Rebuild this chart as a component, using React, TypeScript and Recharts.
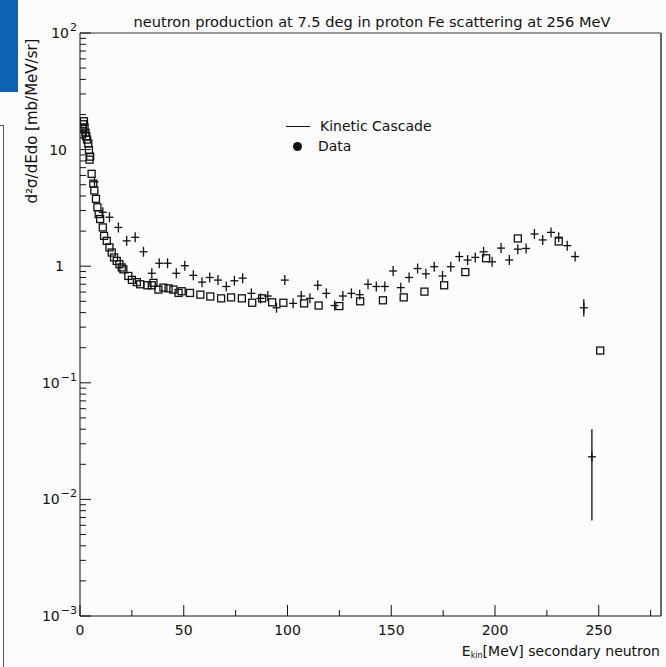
import { ComposedChart, Scatter, XAxis, YAxis, ErrorBar, ReferenceLine } from "recharts";

// measured data (squares)
const dataE = [0.9, 1.2, 1.5, 1.9, 2.2, 2.6, 3.0, 3.4, 4.0, 4.3, 4.6, 4.9, 5.6, 6.4, 6.9, 7.7, 8.4, 9.0, 9.7, 11.0, 11.6, 12.9, 14.2, 15.3, 16.4, 17.7, 19.0, 20.1, 20.9, 23.3, 25.0, 27.4, 29.0, 32.5, 34.6, 35.4, 37.8, 40.2, 42.7, 45.0, 47.5, 49.0, 53.0, 58.0, 62.8, 68.0, 72.8, 78.0, 83.0, 87.8, 92.6, 98.0, 108.0, 115.0, 125.0, 135.0, 146.0, 156.0, 166.0, 175.5, 185.7, 195.7, 211.0, 230.7, 250.7];
const dataV = [13.5, 15, 16.5, 17.5, 15.5, 14, 13, 12.2, 11.3, 9.9, 8.2, 8.7, 6.2, 5.1, 4.46, 3.78, 3.2, 2.8, 2.54, 2.15, 1.82, 1.65, 1.45, 1.31, 1.19, 1.11, 1.04, 0.975, 0.94, 0.825, 0.763, 0.73, 0.7, 0.686, 0.686, 0.72, 0.63, 0.655, 0.645, 0.63, 0.59, 0.61, 0.59, 0.57, 0.55, 0.53, 0.54, 0.53, 0.486, 0.53, 0.49, 0.486, 0.48, 0.46, 0.455, 0.5, 0.51, 0.54, 0.605, 0.686, 0.89, 1.17, 1.73, 1.63, 0.189];

// kinetic cascade (crosses)
const casE = [3.0, 7.0, 11.0, 14.2, 18.5, 22.5, 26.6, 30.6, 34.6, 38.2, 42.2, 46.4, 50.5, 54.6, 58.8, 62.5, 66.5, 70.5, 74.4, 78.4, 82.6, 87.0, 90.5, 94.7, 98.7, 102.7, 106.6, 110.8, 114.6, 118.7, 122.7, 126.7, 130.8, 134.8, 138.8, 142.8, 146.9, 150.9, 154.6, 158.6, 162.7, 166.7, 170.7, 174.7, 178.7, 182.8, 186.8, 190.5, 194.5, 198.6, 202.9, 206.9, 211.0, 215.0, 219.0, 223.0, 227.0, 230.7, 234.8, 238.6];
const casV = [14, 5.3, 2.9, 2.63, 2.15, 1.65, 1.77, 1.33, 0.87, 1.06, 1.06, 0.87, 1.01, 0.835, 0.73, 0.8, 0.76, 0.67, 0.75, 0.79, 0.585, 0.53, 0.555, 0.44, 0.76, 0.48, 0.555, 0.53, 0.686, 0.585, 0.46, 0.555, 0.585, 0.57, 0.7, 0.67, 0.67, 0.91, 0.655, 0.8, 0.955, 0.86, 0.99, 0.825, 0.99, 1.21, 1.13, 1.19, 1.33, 1.09, 1.43, 1.13, 1.4, 1.42, 1.89, 1.68, 1.95, 1.77, 1.5, 1.21];

// last cascade points, with vertical errors
const tailE = [242.8, 246.7];
const tailV = [0.44, 0.0232];
const tailLo = [0.07, 0.0166];
const tailHi = [0.08, 0.0168];

const xMajor = [0, 50, 100, 150, 200, 250];
const xMinor = [25, 75, 125, 175, 225, 275];
const yMajor = [0.001, 0.01, 0.1, 1, 10, 100];
const yMinor = [0.001, 0.01, 0.1, 1, 10].flatMap((d) => [2, 3, 4, 5, 6, 7, 8, 9].map((k) => d * k));

const squares = dataE.map((x, i) => ({ x, y: dataV[i] }));
const crosses = casE.map((x, i) => ({ x, y: casV[i] }));
const tail = tailE.map((x, i) => ({ x, y: tailV[i], err: [tailLo[i], tailHi[i]] }));

const FONT = "'DejaVu Sans', sans-serif";
const INK = "#111";
const X_DOM: [number, number] = [0, 280];
const Y_DOM: [number, number] = [0.001, 100];
// inward tick lengths, in axis units (about 11px / 6px)
const YT_MAJ = 5.3, YT_MIN = 2.9;
const XT_MAJ = 0.001243, XT_MIN = 0.001126;

const Square = (p: any) => <rect x={p.cx - 3.5} y={p.cy - 3.5} width={7} height={7} fill="none" stroke={INK} strokeWidth={1.3} />;
const Cross = (p: any) => (
  <g stroke={INK} strokeWidth={1.3}>
    <line x1={p.cx - 4} x2={p.cx + 4} y1={p.cy} y2={p.cy} />
    <line x1={p.cx} x2={p.cx} y1={p.cy - 5} y2={p.cy + 5} />
  </g>
);

function YTick({ x, y, payload }: any) {
  const e = Math.round(Math.log10(payload.value));
  if (e === 0) return <text x={x - 13} y={y} dy="0.36em" textAnchor="end" fontFamily={FONT} fontSize={14} fill={INK}>1</text>;
  if (e === 1) return <text x={x - 10} y={y} dy="0.36em" textAnchor="end" fontFamily={FONT} fontSize={14} fill={INK}>10</text>;
  return (
    <text x={x} y={y} dy="0.36em" textAnchor="end" fontFamily={FONT} fontSize={14} fill={INK}>
      10<tspan dy={-7} dx={1} fontSize={11}>{e < 0 ? "\u2212" + -e : String(e)}</tspan>
    </text>
  );
}

function XTick({ x, y, payload }: any) {
  return <text x={x} y={y} dy="0.71em" textAnchor="middle" fontFamily={FONT} fontSize={14} fill={INK}>{payload.value}</text>;
}

function XLabel({ viewBox }: any) {
  return (
    <text x={viewBox.x + viewBox.width - 1} y={viewBox.y + 40} textAnchor="end" fontFamily={FONT} fontSize={14} fill={INK}>
      E<tspan fontSize={8} dy={2}>kin</tspan><tspan dy={-2}>[MeV] secondary neutron</tspan>
    </text>
  );
}

function YLabel() {
  const cx = 32, cy = 121;
  return (
    <text x={cx} y={cy} transform={`rotate(-90 ${cx} ${cy})`} textAnchor="middle" dominantBaseline="central" fontFamily={FONT} fontSize={15} fill={INK}>
      d²σ/dEdo [mb/MeV/sr]
    </text>
  );
}

export default function App() {
  const seg = (a: any, b: any, k: string) => (
    <ReferenceLine key={k} segment={[a, b]} stroke={INK} strokeWidth={1} ifOverflow="visible" />
  );
  return (
    <div style={{ position: "absolute", left: 0, top: 0, width: 666, height: 667, background: "#fcfcfc", overflow: "hidden" }}>
      <div style={{ position: "absolute", left: 0, top: 0, width: 18, height: 92, background: "#0b63b3" }} />
      <div style={{ position: "absolute", left: -10, top: 125, width: 12, height: 560, border: "1px solid #555" }} />
      <div style={{ position: "absolute", left: 0, width: 666, top: 13, textAlign: "center", paddingLeft: 78, boxSizing: "border-box", fontFamily: FONT, fontSize: 14.6, color: INK }}>
        neutron production at 7.5 deg in proton Fe scattering at 256 MeV
      </div>
      <div style={{ position: "absolute", left: 286, top: 116, fontFamily: FONT, fontSize: 14, color: INK, lineHeight: "20px" }}>
        <div style={{ display: "flex", alignItems: "center" }}>
          <span style={{ display: "inline-block", width: 24, borderTop: "1.5px solid #111", marginRight: 10 }} />Kinetic Cascade
        </div>
        <div style={{ display: "flex", alignItems: "center" }}>
          <span style={{ display: "inline-block", width: 9, height: 9, borderRadius: 5, background: "#111", marginLeft: 7, marginRight: 16 }} />Data
        </div>
      </div>
      <ComposedChart width={666} height={667} margin={{ top: 33, right: 5, bottom: 0, left: 0 }} style={{ position: "absolute", left: 0, top: 0 }}>
        <XAxis dataKey="x" type="number" domain={X_DOM} ticks={xMajor} allowDataOverflow height={51}
          tickSize={0} tickMargin={9} tick={<XTick />} axisLine={{ stroke: INK }} tickLine={false} label={<XLabel />} />
        <YAxis dataKey="y" scale="log" type="number" domain={Y_DOM} ticks={yMajor} allowDataOverflow width={80}
          tickSize={0} tickMargin={3} tick={<YTick />} axisLine={{ stroke: INK }} tickLine={false} label={<YLabel />} />
        {/* frame */}
        <ReferenceLine y={100} stroke="#333" ifOverflow="visible" />
        <ReferenceLine x={280} stroke="#666" strokeWidth={2} ifOverflow="visible" />
        {/* inward ticks */}
        {yMajor.map((v) => seg({ x: 0, y: v }, { x: YT_MAJ, y: v }, "ym" + v))}
        {yMinor.map((v) => seg({ x: 0, y: v }, { x: YT_MIN, y: v }, "yn" + v))}
        {xMajor.map((v) => seg({ x: v, y: 0.001 }, { x: v, y: XT_MAJ }, "xm" + v))}
        {xMinor.map((v) => seg({ x: v, y: 0.001 }, { x: v, y: XT_MIN }, "xn" + v))}
        <Scatter data={squares} dataKey="y" shape={<Square />} isAnimationActive={false} />
        <Scatter data={crosses} dataKey="y" shape={<Cross />} isAnimationActive={false} />
        <Scatter data={tail} dataKey="y" shape={<Cross />} isAnimationActive={false}>
          <ErrorBar dataKey="err" direction="y" width={0} stroke={INK} strokeWidth={1.3} />
        </Scatter>
      </ComposedChart>
    </div>
  );
}
